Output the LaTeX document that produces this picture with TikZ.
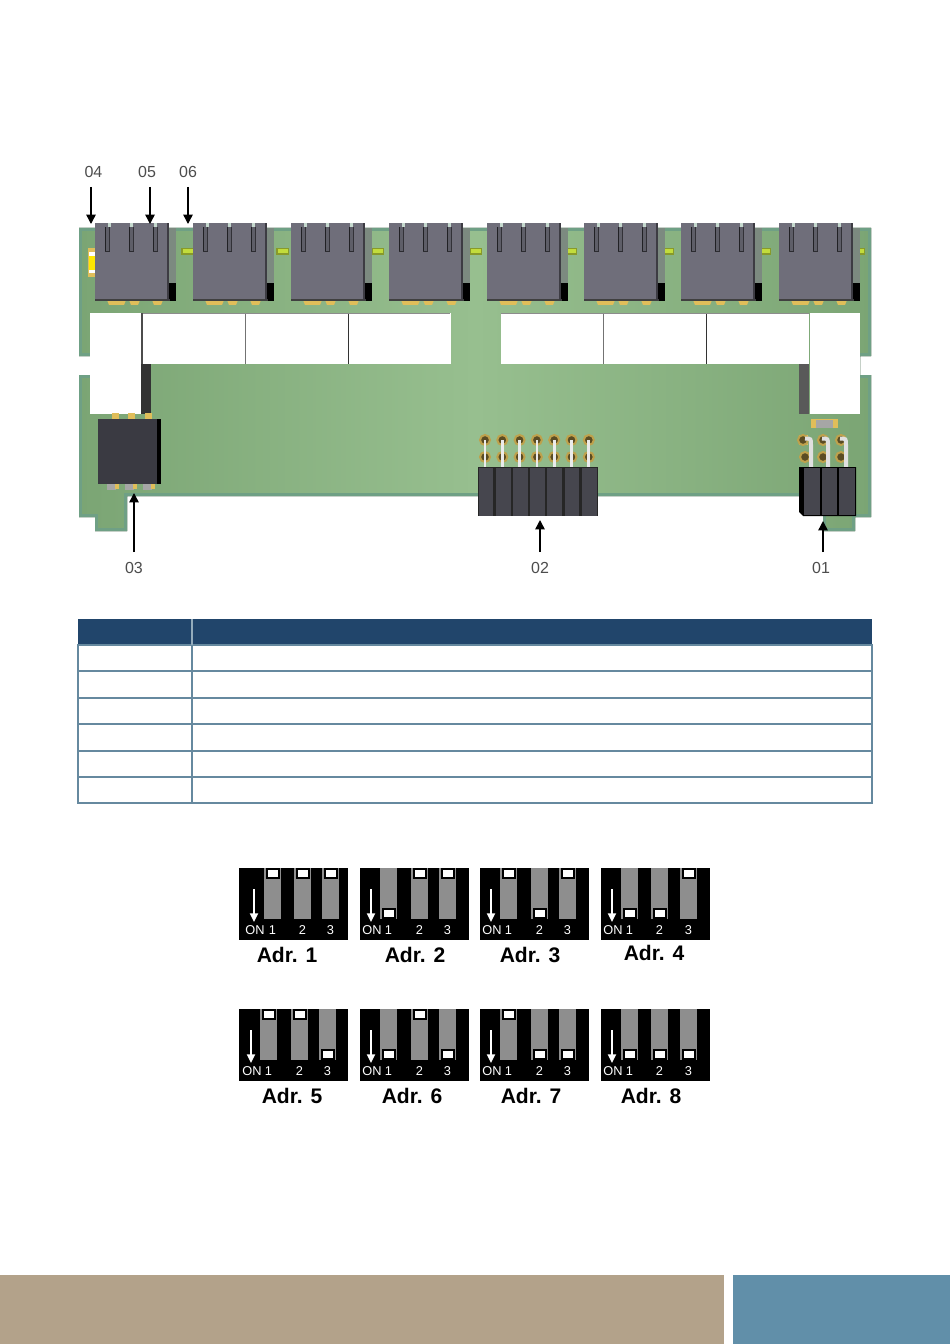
\documentclass[tikz,border=0pt]{standalone}
\usepackage{fontspec}
\setmainfont{Liberation Sans}
\usetikzlibrary{arrows.meta}
\definecolor{tabhead}{HTML}{21456B}
\definecolor{tabline}{HTML}{66899F}
\definecolor{foottan}{HTML}{B3A28A}
\definecolor{footblue}{HTML}{618FA9}
\definecolor{boardedge}{HTML}{6FA085}
\definecolor{boarddark}{HTML}{7BA574}
\definecolor{boardmid}{HTML}{97BF8F}
\definecolor{connbody}{HTML}{6F6E7A}
\definecolor{connside}{HTML}{7C8A80}
\definecolor{blockdark}{HTML}{3A3A42}
\definecolor{segfill}{HTML}{46464E}
\definecolor{gold}{HTML}{E0BE5A}
\definecolor{lime}{HTML}{C2DC3C}
\definecolor{bargrey}{HTML}{8E8E8E}
\definecolor{labelgrey}{HTML}{4D4D4D}
\tikzset{
  x=0.75pt,y=-0.75pt,
  refarrow/.style={draw=black,line width=1.1pt,-{Triangle[length=7pt,width=7pt]}},
  reflabel/.style={inner sep=0pt,font=\fontsize{12}{14}\selectfont,text=labelgrey},
  diplabel/.style={inner sep=0pt,font=\fontsize{9.6}{11}\selectfont,text=white},
  adrlabel/.style={inner sep=0pt,font=\bfseries\fontsize{15.8}{18}\selectfont,text=black},
  diparrow/.style={draw=white,line width=1.4pt,-{Triangle[length=6.5pt,width=6pt]}},
  whiteblock/.style={fill=white,draw=none},
  tablerule/.style={draw=tabline,line width=1.5pt},
  pad/.style={fill=gold,draw=none},
  pinthin/.style={draw=white!92!black,line width=2pt},
  pinwide/.style={draw=white!88!black,line width=3pt},
  pinring/.style={draw=gold!85!black,line width=1.5pt,fill=black!60!gold},
}
% left, top, arrow x, bar 1, bar 2, bar 3, state 1, state 2, state 3 (0 up, 1 down)
\newcommand{\dipswitch}[9]{%
  \fill[black] (#1,#2) rectangle ++(108.5,71.5);
  \foreach \bx/\st/\dg in {#4/#7/1,#5/#8/2,#6/#9/3}{
    \fill[bargrey] (\bx,#2) rectangle ++(17,50.5);
    \pgfmathsetmacro{\sy}{#2+\st*40}
    \fill[black] (\bx+1.5,\sy) rectangle ++(14,11);
    \fill[white] (\bx+3.5,\sy+2) rectangle ++(10,7);
    \node[diplabel] at (\bx+8.5,#2+62) {\dg};
  }
  \coordinate (dipa#1#2) at (#3,#2+21);
  \coordinate (dipb#1#2) at (#3,#2+54);
  \draw[diparrow] (dipa#1#2) -- (dipb#1#2);
  \node[diplabel] at (#3+1,#2+62) {ON};
}
\begin{document}
\begin{tikzpicture}
\useasboundingbox (0,0) rectangle (950,1344);
\fill[white] (0,0) rectangle (950,1344);

% ---------- board ----------
\def\boardpath{(79,228) -- (871,228) -- (871,356) -- (860,356) -- (860,375) -- (871,375) -- (871,517) -- (855,517) -- (855,531) -- (823,531) -- (823,496) -- (127,496) -- (127,531) -- (95,531) -- (95,517) -- (79,517) -- (79,375) -- (90,375) -- (90,356) -- (79,356) -- cycle}
\fill[left color=boarddark,right color=boarddark,middle color=boardmid] \boardpath;
\begin{scope}
  \clip \boardpath;
  \draw[boardedge,line width=4pt] \boardpath;
\end{scope}

% ---------- chip at far left ----------
\fill[gold] (88,248) rectangle (95,277);
\fill[white] (89,252) rectangle (95,273);
\fill[yellow!90!orange] (89,256) rectangle (95,270);

% ---------- lime parts between connectors ----------
\foreach \lx in {182,277,372,470,565,662,759,853}{
  \fill[lime!70!black] (\lx-1,248) rectangle ++(13,7);
  \fill[lime] (\lx+1,249.5) rectangle ++(10,4);
}

% ---------- RJ connectors ----------
\foreach \cx in {95,193,291,389,487,584,681,779}{
  \fill[connside] (\cx+74,228) rectangle (\cx+81,301);
  \fill[black] (\cx+73,283) -- (\cx+81,283) -- (\cx+81,301) -- (\cx+73,301) -- cycle;
  \foreach \gx/\gw in {12/19,34/11,57/11}{
    \fill[gold] (\cx+\gx,300) -- ++(\gw,0) -- ++(-2,5) -- ++(-\gw+4,0) -- cycle;
  }
  \fill[connbody] (\cx,223) rectangle (\cx+74,300);
  \fill[black!75] (\cx,299) rectangle (\cx+75,301.5);
  \foreach \sx in {10,34,58}{
    \fill[black!15!connbody] (\cx+\sx,227) rectangle ++(5,25);
    \fill[black!70!connbody] (\cx+\sx,227) rectangle ++(0.9,25);
    \fill[black!55!connbody] (\cx+\sx+4,227) rectangle ++(0.9,25);
    \fill[black!60!connbody] (\cx+\sx,251) rectangle ++(5,1);
  }
  \foreach \nx in {13,35,59}{
    \fill[boardedge!40!white] (\cx+\nx,223) rectangle ++(3,4.5);
  }
  \fill[black!45!connbody] (\cx+72,223) rectangle (\cx+74,300);
}

% ---------- white relay blocks ----------
\fill[black!80] (141,364) rectangle (151,414);
\fill[black!65] (799,364) rectangle (809,414);
\fill[black!70] (141,313) rectangle (143,364);
\foreach \wx in {143,245,348,501,603,706}{
  \fill[whiteblock] (\wx,313.5) rectangle ++(102.5,50.5);
}
\draw[black!55,line width=0.7pt] (245.5,313) -- (245.5,364);
\draw[black!80,line width=0.7pt] (348,313) -- (348,364);
\draw[black!55,line width=0.7pt] (603,313) -- (603,364);
\draw[black!80,line width=0.7pt] (706,313) -- (706,364);
\draw[black!45,line width=0.4pt] (143,313) -- (450,313);
\draw[black!45,line width=0.4pt] (501,313) -- (809,313);
\fill[whiteblock] (90,313) rectangle (141,414);
\fill[whiteblock] (810,313) rectangle (860,414);

% ---------- block 03 ----------
\foreach \px in {112,128,145}{ \fill[pad] (\px,413) rectangle ++(7,6); }
\fill[blockdark] (98,419) rectangle (158,484);
\fill[black] (157,419) rectangle (161,484);
\foreach \px in {107,125,143}{
  \fill[black!35] (\px,484) rectangle ++(9,6);
  \fill[pad] (\px+8,484) rectangle ++(4,4.5);
}

% ---------- header 02 ----------
\foreach \n in {0,...,6}{
  \pgfmathsetmacro{\hx}{485+\n*17.3}
  \draw[pinring] (\hx,440) circle (5);
  \draw[pinring] (\hx,457) circle (5);
  \draw[pinthin] (\hx,440) -- (\hx,467);
  \pgfmathsetmacro{\sx}{477.5+\n*17.2}
  \fill[black!85] (\sx,467) rectangle ++(17.2,49);
  \fill[segfill] (\sx+1,467.5) rectangle ++(14.8,48);
}

% ---------- header 01 and resistor ----------
\fill[gold] (811,419) rectangle (838,428);
\fill[black!35] (816,419.5) rectangle (833,427.5);
\fill[gold] (799,435) rectangle (808,445);
\foreach \px/\py in {803/440,823/440,841/440,805/457,823/457,841/457}{
  \draw[pinring] (\px,\py) circle (5);
}
\foreach \px in {811,828,846}{
  \draw[pinwide] (\px,467) -- (\px,445) .. controls (\px,438.5) .. (\px-6,438.5);
}
\fill[black] (799,467) -- (856,467) -- (856,516) -- (803,516) -- (799,512) -- cycle;
\fill[segfill] (804,468) rectangle (820,515);
\fill[segfill] (822,468) rectangle (837,515);
\fill[segfill] (839,468) rectangle (855,515);

% ---------- reference arrows ----------
\node[reflabel] (l04) at (93.5,172) {04};
\node[reflabel] (l05) at (147,172) {05};
\node[reflabel] (l06) at (188,172) {06};
\node[reflabel] (l03) at (134,568) {03};
\node[reflabel] (l02) at (540,568) {02};
\node[reflabel] (l01) at (821,568) {01};
\coordinate (s04) at (91,187);  \coordinate (t04) at (91,224);
\coordinate (s05) at (150,187); \coordinate (t05) at (150,224);
\coordinate (s06) at (188,187); \coordinate (t06) at (188,224);
\coordinate (s03) at (134,552); \coordinate (t03) at (134,493);
\coordinate (s02) at (540,552); \coordinate (t02) at (540,520);
\coordinate (s01) at (823,552); \coordinate (t01) at (823,521);
\foreach \a in {04,05,06,03,02,01}{ \draw[refarrow] (s\a) -- (t\a); }

% ---------- table ----------
\fill[tabhead] (78,619) rectangle (872,645);
\draw[tablerule] (78,645) rectangle (872,803);
\foreach \ry in {671,698,724,751,777}{ \draw[tablerule] (78,\ry) -- (872,\ry); }
\draw[tablerule] (192,645) -- (192,803);
\draw[draw=tabline!70!white,line width=1.2pt] (192,619) -- (192,645);

% ---------- DIP switches ----------
\dipswitch{239}{868}{254}{264}{294}{322}{0}{0}{0}
\dipswitch{360}{868}{371}{380}{411}{439}{1}{0}{0}
\dipswitch{480}{868}{491}{500}{531}{559}{0}{1}{0}
\dipswitch{601}{868}{612}{621}{651}{680}{1}{1}{0}
\dipswitch{239}{1009}{251}{260}{291}{319}{0}{0}{1}
\dipswitch{360}{1009}{371}{380}{411}{439}{1}{0}{1}
\dipswitch{480}{1009}{491}{500}{531}{559}{0}{1}{1}
\dipswitch{601}{1009}{612}{621}{651}{680}{1}{1}{1}
\node[adrlabel] (a1) at (287,955) {Adr. 1};
\node[adrlabel] (a2) at (415,955) {Adr. 2};
\node[adrlabel] (a3) at (530,955) {Adr. 3};
\node[adrlabel] (a4) at (654,953) {Adr. 4};
\node[adrlabel] (a5) at (292,1096) {Adr. 5};
\node[adrlabel] (a6) at (412,1096) {Adr. 6};
\node[adrlabel] (a7) at (531,1096) {Adr. 7};
\node[adrlabel] (a8) at (651,1096) {Adr. 8};

% ---------- footer ----------
\fill[foottan] (0,1275) rectangle (724,1344);
\fill[footblue] (733,1275) rectangle (950,1344);
\end{tikzpicture}
\end{document}
